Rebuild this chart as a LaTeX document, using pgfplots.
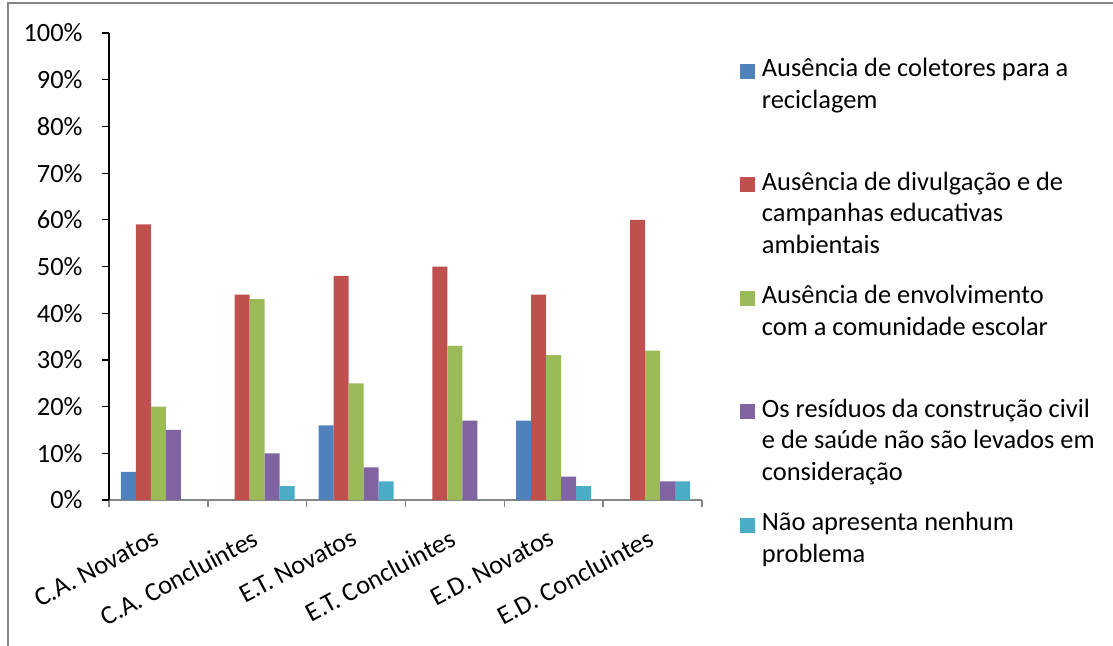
\documentclass[border=0pt]{standalone}
\usepackage{fontspec}
\setmainfont{Carlito}
\usepackage{pgfplots}
\pgfplotsset{compat=1.18}

\definecolor{serA}{RGB}{79,129,189}
\definecolor{serB}{RGB}{192,80,77}
\definecolor{serC}{RGB}{155,187,89}
\definecolor{serD}{RGB}{128,100,162}
\definecolor{serE}{RGB}{75,172,198}
\definecolor{frame}{RGB}{134,134,134}

\newcommand{\chartfont}{\fontsize{13.2pt}{15.85pt}\selectfont}

\begin{document}
\begin{tikzpicture}
\useasboundingbox (0,0) rectangle (556.5pt,322.5pt);
\draw[frame, line width=0.75pt] (4pt,-1pt) -- (4pt,321pt) -- (557.5pt,321pt);
\begin{axis}[
  at={(54.5pt,72.5pt)}, anchor=south west,
  scale only axis, width=296.5pt, height=233.5pt,
  ybar=0pt, bar width=7.5pt,
  xmin=-0.5, xmax=5.5, ymin=0, ymax=100,
  axis x line*=bottom, axis y line*=left,
  x axis line style={frame, line width=0.75pt},
  y axis line style={black, line width=0.8pt},
  tick align=outside, major tick length=3.5pt,
  xtick={-0.5,0.5,...,5.5}, xticklabels={},
  xtick style={frame, line width=0.75pt},
  extra x ticks={0,1,2,3,4,5},
  extra x tick labels={C.A. Novatos,C.A. Concluintes,E.T. Novatos,E.T. Concluintes,E.D. Novatos,E.D. Concluintes},
  extra x tick style={major tick length=0pt,
    xticklabel style={rotate=28, anchor=north east, font=\chartfont, inner sep=1pt, yshift=-10pt, xshift=-8pt}},
  ytick={0,10,...,100},
  yticklabels={0\%,10\%,20\%,30\%,40\%,50\%,60\%,70\%,80\%,90\%,100\%},
  ytick style={black, line width=0.6pt},
  yticklabel style={font=\chartfont, anchor=east, inner sep=1pt, xshift=-8.5pt},
  % square legend key, raised to sit on the first line of each entry
  legend image code/.code={\fill[#1,draw=none] (0pt,10pt) rectangle (7.5pt,17.5pt);},
  legend style={at={(1.064,0.954)}, anchor=north west, draw=none, fill=none,
    inner sep=0pt, outer sep=0pt, row sep=12.45pt, column sep=3.5pt,
    font=\chartfont,
    nodes={inner sep=0pt}, cells={anchor=base west, align=left}},
  legend cell align=left,
]
\addplot[fill=serA, draw=none] coordinates {(0,6) (1,0) (2,16) (3,0) (4,17) (5,0)};
\addplot[fill=serB, draw=none] coordinates {(0,59) (1,44) (2,48) (3,50) (4,44) (5,60)};
\addplot[fill=serC, draw=none] coordinates {(0,20) (1,43) (2,25) (3,33) (4,31) (5,32)};
\addplot[fill=serD, draw=none] coordinates {(0,15) (1,10) (2,7) (3,17) (4,5) (5,4)};
\addplot[fill=serE, draw=none] coordinates {(0,0) (1,3) (2,4) (3,0) (4,3) (5,4)};
\legend{
  \strut Ausência de coletores para a\\\strut reciclagem\\\strut,
  \strut Ausência de divulgação e de\\\strut campanhas educativas\\\strut ambientais,
  \strut Ausência de envolvimento\\\strut com a comunidade escolar\\\strut,
  \strut Os resíduos da construção civil\\\strut e de saúde não são levados em\\\strut consideração,
  \strut Não apresenta nenhum\\\strut problema\\\strut}
\end{axis}
\end{tikzpicture}
\end{document}
